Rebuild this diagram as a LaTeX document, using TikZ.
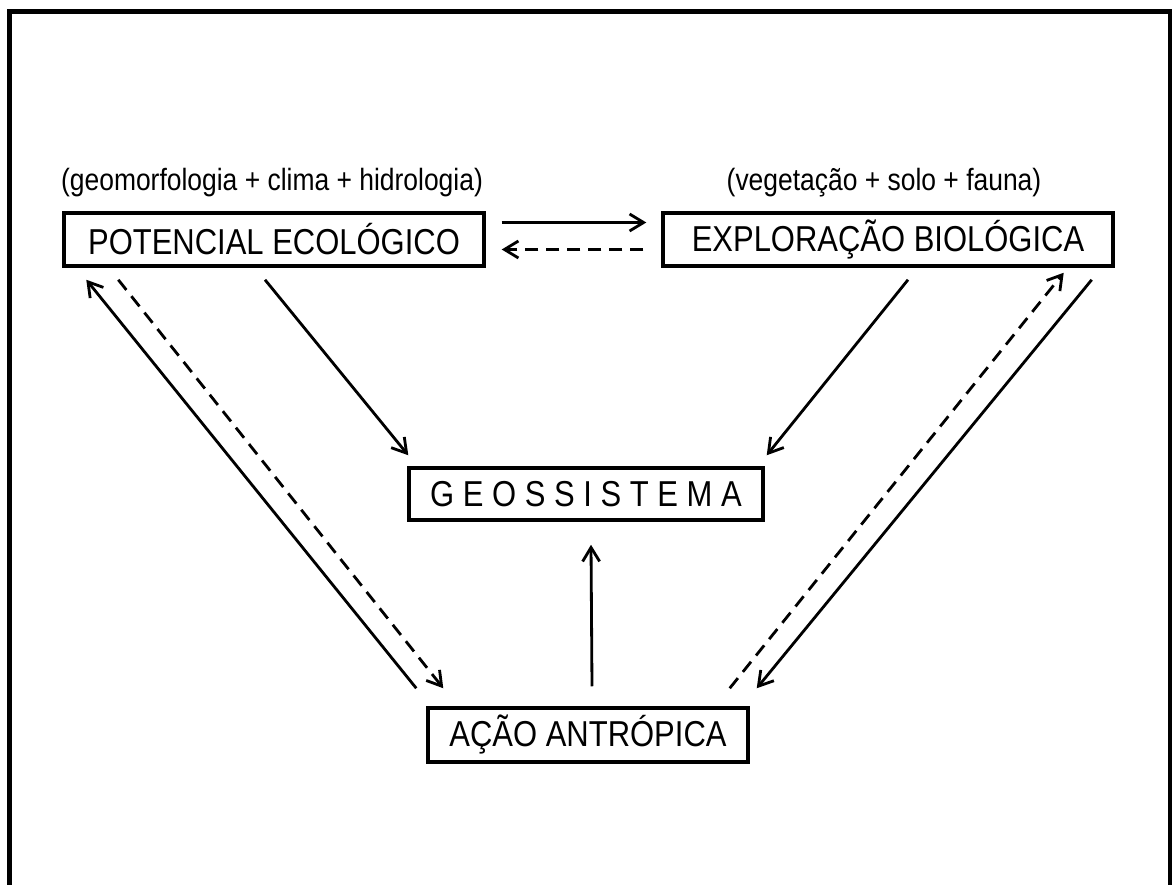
\documentclass[tikz,border=0pt]{standalone}
\usepackage{fontspec}
\setmainfont{Liberation Sans}
\newfontfamily\narrowfont[FakeStretch=0.86]{Liberation Sans}
\usepackage{tikz}
\usetikzlibrary{calc,arrows.meta}

\begin{document}
\begin{tikzpicture}[
  x=0.02cm, y=-0.02cm,
  every node/.style={inner sep=0pt},
  box/.style={rectangle, draw, line width=2pt, font=\narrowfont\fontsize{20.5}{23}\selectfont},
  note/.style={font=\narrowfont\fontsize{17.5}{20}\selectfont},
  link/.style={line width=1.6pt, -{Straight Barb[length=2.8mm,width=3.4mm]}},
  back/.style={link, dash pattern=on 0.26cm off 0.16cm}
]
\useasboundingbox (0,0) rectangle (1173,885);
\draw[line width=2.8pt] (9.5,885) -- (9.5,11.5) -- (1170,11.5) -- (1170,885);

\node[box, minimum width=8.4cm, minimum height=1.06cm] (pot) at (274,239.5) {POTENCIAL ECOLÓGICO};
\node[box, minimum width=9cm, minimum height=1.06cm] (expl) at (888,239.5) {EXPLORAÇÃO BIOLÓGICA};
\node[box, minimum width=7.08cm, minimum height=1.04cm] (geo) at (586,494) {G E O S S I S T E M A};
\node[box, minimum width=6.4cm, minimum height=1.08cm] (acao) at (588,735) {AÇÃO ANTRÓPICA};

\node[note, anchor=south] (potnote) at ($(pot.north)+(-2,-14)$) {(geomorfologia + clima + hidrologia)};
\node[note, anchor=south] (explnote) at ($(expl.north)+(-4,-14)$) {(vegetação + solo + fauna)};

% top pair
\draw[link] ($(pot.east)+(16,-17)$) -- ($(expl.west)+(-15,-17)$);
\draw[back] ($(expl.west)+(-18,10)$) -- ($(pot.east)+(16,10)$);

% into the geosystem
\draw[link] ($(pot.south)+(-9,12)$) -- ($(geo.north west)+(1,-11)$);
\draw[link] ($(expl.south)+(20,12)$) -- ($(geo.north east)+(2,-11)$);
\draw[link] ($(acao.north)+(4,-20)$) -- ($(geo.south)+(5,23)$);

% sides
\draw[link] ($(acao.north west)+(-10,-18)$) -- ($(pot.south west)+(24,12)$);
\draw[back] ($(pot.south west)+(56,12)$) -- ($(acao.north west)+(17,-18)$);
\draw[back] ($(acao.north east)+(-20,-18)$) -- ($(expl.south east)+(-51,5)$);
\draw[link] ($(expl.south east)+(-23,12)$) -- ($(acao.north east)+(7,-18)$);
\end{tikzpicture}
\end{document}
